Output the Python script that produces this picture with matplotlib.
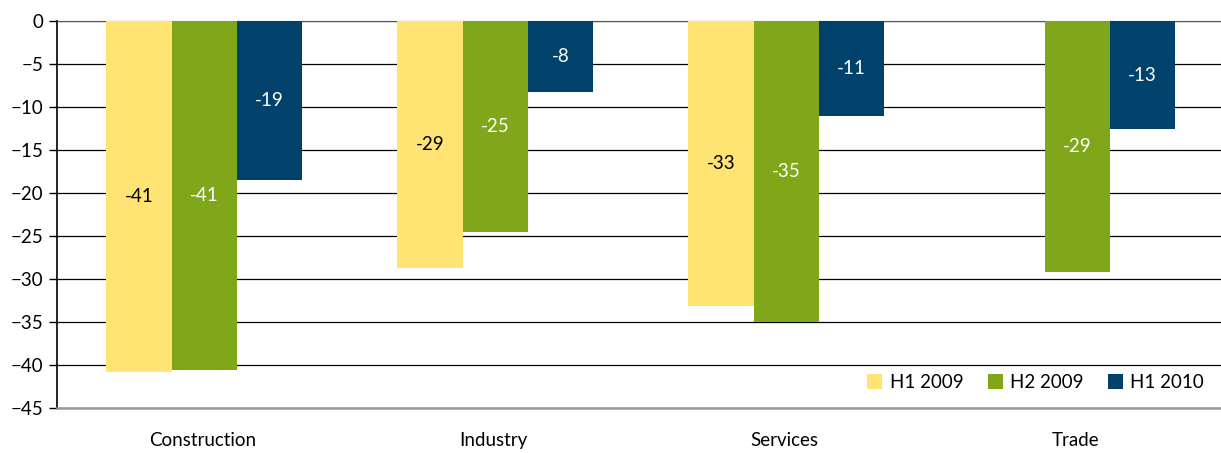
import matplotlib.pyplot as plt
import numpy as np

# data
categories = ['Construction', 'Industry', 'Services', 'Trade']
series = ['H1 2009', 'H2 2009', 'H1 2010']
h1_2009 = [-40.8, -28.7, -33.1, np.nan]
h2_2009 = [-40.6, -24.5, -35.0, -29.2]
h1_2010 = [-18.5, -8.3, -11.1, -12.6]
colors = ['#FFE373', '#80A619', '#00426B']
label_colors = ['black', 'white', 'white']

plt.rcParams['font.family'] = ['Lato', 'DejaVu Sans']

fig = plt.figure(figsize=(12.21, 4.53), dpi=100)
ax = fig.add_axes([0.0467, 0.0993, 0.9533, 0.8543])

x = np.arange(len(categories))
width = 0.224
values = [h1_2009, h2_2009, h1_2010]
for i, (vals, name) in enumerate(zip(values, series)):
    bars = ax.bar(x + 0.006 + (i - 1) * width, vals, width, color=colors[i], label=name, zorder=3)
    for bar, v in zip(bars, vals):
        if np.isnan(v):
            continue
        # round half away from zero, like Excel
        lab = int(np.sign(v) * np.floor(abs(v) + 0.5))
        ax.text(bar.get_x() + bar.get_width() / 2, v / 2, str(lab),
                ha='center', va='center', fontsize=13.5, color=label_colors[i], zorder=4)

ax.set_xlim(-0.5, 3.5)
ax.set_ylim(-45, 0)
ax.set_yticks(np.arange(-45, 1, 5))
ax.set_xticks(x)
ax.set_xticklabels(categories, fontsize=13.5)
ax.tick_params(axis='x', length=0, pad=17)
ax.tick_params(axis='y', direction='out', length=6, width=1, labelsize=13.5, pad=4)
ax.yaxis.grid(True, color='black', linewidth=0.9, zorder=0)

ax.spines['right'].set_visible(False)
ax.spines['top'].set_color('#555555')
ax.spines['bottom'].set_color('#999999')
ax.spines['bottom'].set_linewidth(1.8)
ax.spines['left'].set_linewidth(1.2)

leg = ax.legend(loc='lower right', ncol=3, frameon=True, fontsize=13.5,
                handlelength=0.8, handleheight=0.8, handletextpad=0.4,
                columnspacing=1.3, borderaxespad=0.5, bbox_to_anchor=(1.0, 0.0))
leg.get_frame().set_facecolor('white')
leg.get_frame().set_edgecolor('none')
leg.get_frame().set_alpha(1)
leg.set_zorder(5)

plt.savefig('out.png', dpi=100)
